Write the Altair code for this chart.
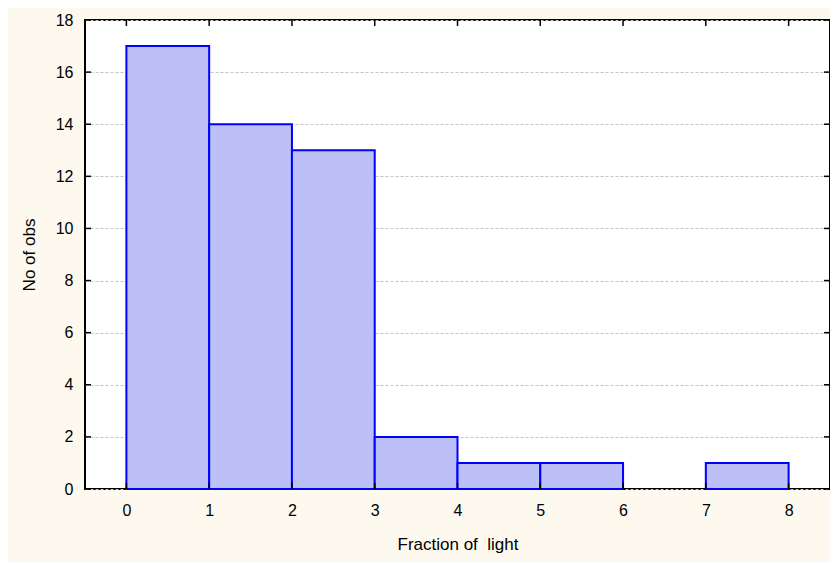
import altair as alt
import pandas as pd

bin_start = [0, 1, 2, 3, 4, 5, 6, 7]
bin_end = [1, 2, 3, 4, 5, 6, 7, 8]
counts = [17, 14, 13, 2, 1, 1, 0, 1]
x_ticks = [0, 1, 2, 3, 4, 5, 6, 7, 8]
y_ticks = [0, 2, 4, 6, 8, 10, 12, 14, 16, 18]

W, H = 745, 469
FONT = "Liberation Sans"

bars_df = pd.DataFrame({"start": bin_start, "end": bin_end, "count": counts})
bars_df = bars_df[bars_df["count"] > 0]
xt_df = pd.DataFrame({"v": x_ticks})
yt_df = pd.DataFrame({"v": y_ticks})

xscale = alt.Scale(domain=[-0.5, 8.5], nice=False, zero=False)
yscale = alt.Scale(domain=[0, 18], nice=False)

bars = alt.Chart(bars_df).mark_rect(
    fill="#bcc0f6", stroke="#0000ff", strokeWidth=2
).encode(
    x=alt.X("start:Q", scale=xscale, title="Fraction of\u00a0 light",
            axis=alt.Axis(values=x_ticks, grid=False, tickSize=0, domain=False,
                          labelPadding=13, titlePadding=18, format="d")),
    x2="end:Q",
    y=alt.Y("count:Q", scale=yscale, title="No of obs",
            axis=alt.Axis(values=y_ticks, grid=True, gridDash=[3, 2],
                          gridColor="#c4c4c4", tickSize=0, domain=False,
                          labelPadding=12, titlePadding=17, format="d")),
    y2=alt.datum(0),
)

top_ticks = alt.Chart(xt_df).mark_rule(color="black", strokeWidth=1.5).encode(
    x=alt.X("v:Q", scale=xscale), y=alt.value(0), y2=alt.value(6))
bot_ticks = alt.Chart(xt_df).mark_rule(color="black", strokeWidth=1.5).encode(
    x=alt.X("v:Q", scale=xscale), y=alt.value(H), y2=alt.value(H - 6))
left_ticks = alt.Chart(yt_df).mark_rule(color="black", strokeWidth=1.5).encode(
    y=alt.Y("v:Q", scale=yscale), x=alt.value(0), x2=alt.value(6))
right_ticks = alt.Chart(yt_df).mark_rule(color="black", strokeWidth=1.5).encode(
    y=alt.Y("v:Q", scale=yscale), x=alt.value(W), x2=alt.value(W - 6))

chart = alt.layer(bars, top_ticks, bot_ticks, left_ticks, right_ticks).properties(
    width=W, height=H,
    autosize=alt.AutoSizeParams(type="none"),
    padding={"left": 77, "top": 12, "right": 0, "bottom": 73},
    background="#fdf9ef",
).configure_view(
    stroke="black", strokeWidth=2, fill="white"
).configure_axis(
    labelFont=FONT, titleFont=FONT, labelFontSize=16, titleFontSize=17,
    labelColor="black", titleColor="black", titleFontWeight="normal",
)

chart.save("out.html", embed_options={"renderer": "svg", "actions": False})
